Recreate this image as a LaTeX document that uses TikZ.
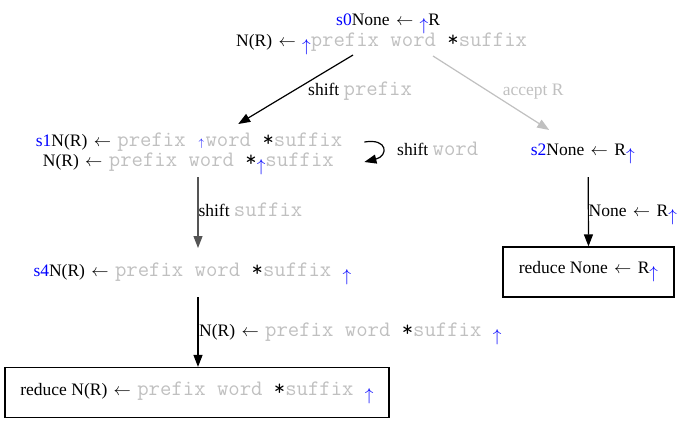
\documentclass[tikz,border=0pt]{standalone}
\usepackage{fontspec}
\setmainfont{Liberation Serif}
\usetikzlibrary{arrows.meta,calc}
\definecolor{lg}{RGB}{192,192,192}
\definecolor{dg}{RGB}{85,85,85}
\newcommand\la{\kern2pt$\leftarrow$\kern2pt}
\newcommand\up{\raisebox{-5pt}{\fontsize{16}{16}\selectfont\color{blue}$\uparrow$}}
\newcommand\upsm{\raisebox{-0.5pt}{\fontsize{11}{11}\selectfont\color{blue}$\uparrow$}}
\newcommand\G[1]{{\fontsize{22.1}{21}\selectfont\ttfamily\color{lg}#1}}
\newcommand\St{{\fontsize{22.1}{21}\selectfont\ttfamily *}}
\newcommand\B[1]{{\color{blue}#1}}
\tikzset{
  txt/.style={inner sep=0pt, anchor=base west, font=\fontsize{17.5}{21}\selectfont},
  box/.style={draw, line width=1.2pt, inner sep=0pt, font=\fontsize{17.5}{21}\selectfont},
  edge/.style={line width=1.2pt, -{Triangle[length=12pt,width=9pt]}}
}
\begin{document}
\begin{tikzpicture}[x=1pt,y=-1pt]
\useasboundingbox (0,0) rectangle (687,424);
% state nodes
\node[txt] (s0a) at (336,25) {\B{s0}None \la{} \up R};
\node[txt] (s0b) at (236,46) {N(R) \la{} \up\G{prefix word }\St\G{suffix}};
\node[txt] (s1a) at (35.7,146) {\B{s1}N(R) \la{} \G{prefix }\kern1.5pt\upsm\kern1.5pt\G{word }\St\G{suffix}};
\node[txt] (s1b) at (42.7,166) {N(R) \la{} \G{prefix word }\St\up\G{suffix}};
\node[txt] (s2) at (530.7,155) {\B{s2}None \la{} R\up};
\node[txt] (s4) at (33.3,276) {\B{s4}N(R) \la{} \G{prefix word }\St\G{suffix }\up};
\node[box, minimum width=384pt, minimum height=50pt] (r4) at (197,392.5) {reduce N(R) \la{} \G{prefix word }\St\G{suffix }\up};
\node[box, minimum width=171pt, minimum height=50pt] (r2) at (588.5,272) {reduce None \la{} R\up};
% edge labels
\node[txt] (l1) at (308,95) {shift \G{prefix}};
\node[txt, text=lg] (l2) at (502.7,95) {accept R};
\node[txt] (l3) at (397,155) {shift \G{word}};
\node[txt] (l4) at (198.3,216) {shift \G{suffix}};
\node[txt] (l5) at (588.5,216) {None \la{} R\up};
\node[txt] (l6) at (199,336) {N(R) \la{} \G{prefix word }\St\G{suffix }\up};
% edges
\draw[edge] ($(s0b.base west)+(117,9)$) -- ($(s1a.base west)+(202.5,-22)$);
\draw[edge, lg] ($(s0b.base west)+(197,10)$) -- ($(s2.base west)+(18.5,-25)$);
\draw[edge] ($(s1a.base east)+(22,-4)$) .. controls ($(s1a.base east)+(46,-8)$) and ($(s1a.base east)+(46,10)$) .. ($(s1a.base east)+(22,16)$);
\draw[edge, dg] ($(s1b.base west)+(155.3,11)$) -- ($(s4.base west)+(164.7,-28)$);
\draw[edge] ($(s4.base west)+(164.7,21)$) -- ($(r4.north)+(1,0)$);
\draw[edge] ($(s2.base west)+(57.5,22)$) -- (r2.north);
\end{tikzpicture}
\end{document}
